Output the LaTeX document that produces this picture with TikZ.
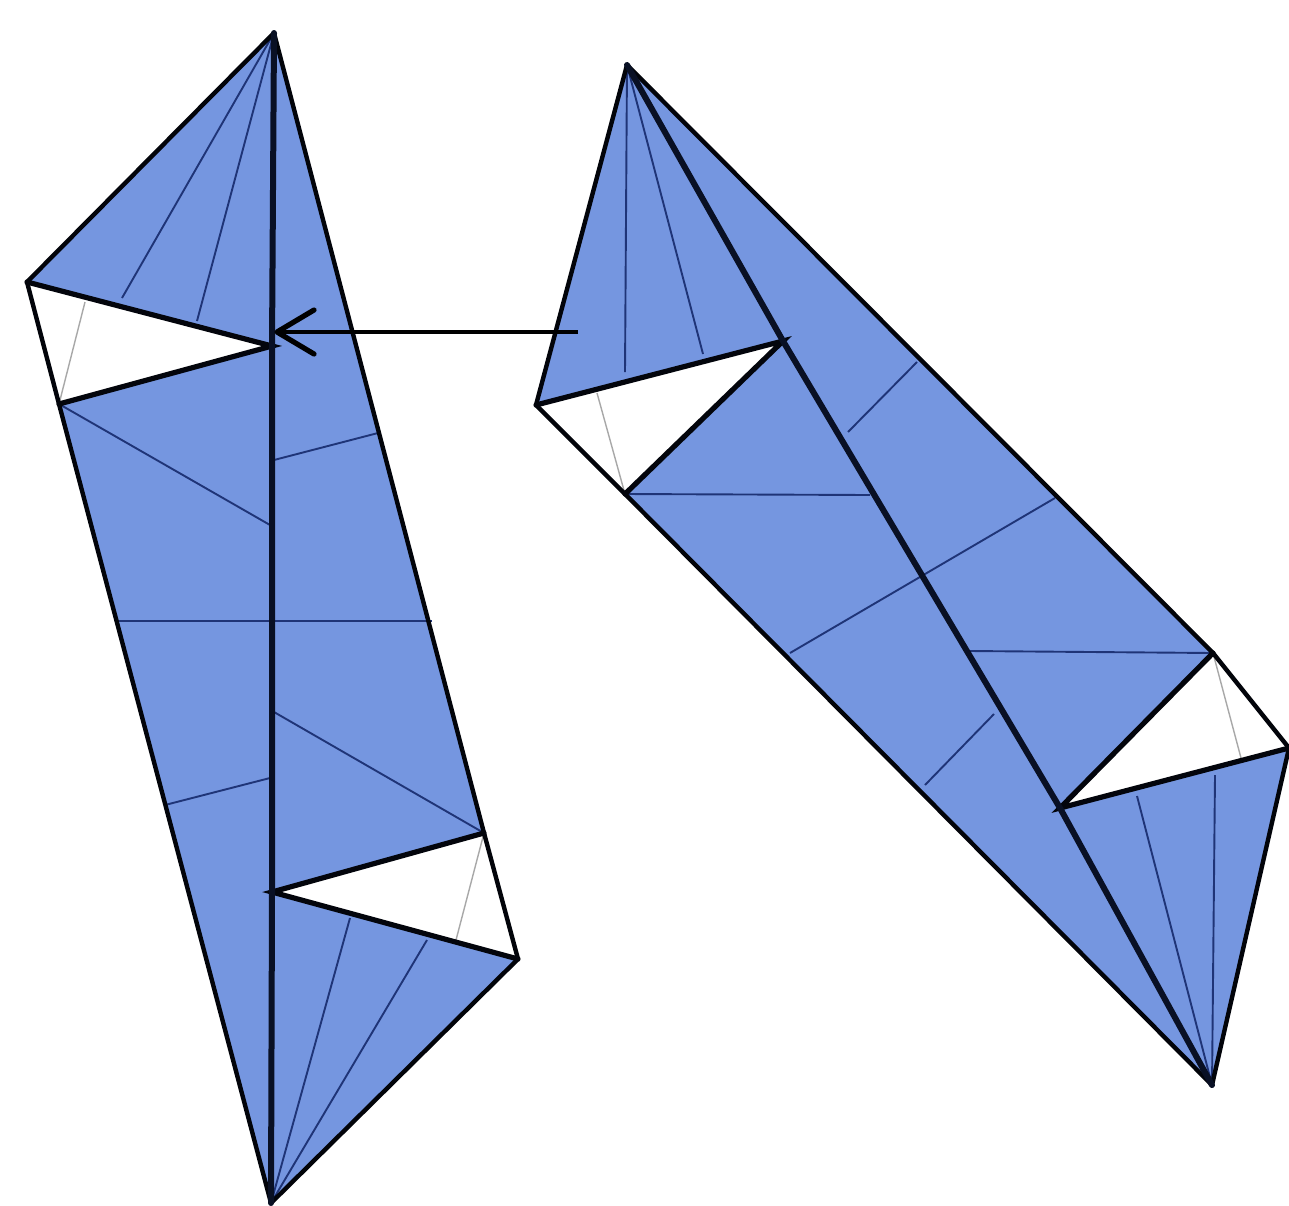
\documentclass[tikz,border=0pt]{standalone}
\definecolor{paper}{HTML}{7596E0}
\definecolor{crease}{HTML}{1F3477}
\definecolor{ghost}{HTML}{A8A8A8}
\tikzset{
  sheet/.style={fill=paper,draw=none},
  gap/.style={fill=white,draw=none},
  edge/.style={draw=black!92!crease,line width=2.2pt,line join=round,line cap=round},
  fold/.style={draw=black!90!crease,line width=2.6pt,line cap=round},
  mainfold/.style={draw=black!70!crease,line width=3pt,line cap=round},
  crease/.style={draw=crease,line width=0.95pt},
  faint/.style={draw=ghost,line width=0.7pt},
  pointer/.style={draw=black,line width=1.7pt},
  barb/.style={draw=black,line width=2.6pt,line cap=round,line join=round}
}
\begin{document}
\begin{tikzpicture}[x=0.5pt,y=-0.5pt]
\useasboundingbox (0,0) rectangle (1289,1205);
% left figure
\coordinate (A) at (274,33);
\coordinate (B) at (27,282);
\coordinate (C) at (59,404);
\coordinate (D) at (271,1203);
\coordinate (E) at (518,959);
\coordinate (F) at (484,833);
\coordinate (G) at (272,346);
\coordinate (H) at (272,892);
\fill[sheet] (A)--(B)--(C)--(D)--(E)--(F)--cycle;
\fill[gap] (B)--(C)--(G)--cycle;
\fill[gap] (F)--(E)--(H)--cycle;
% left creases
\draw[crease] (122,298)--(A);
\draw[crease] (197,321)--(A);
\draw[crease] (C)--(270,525);
\draw[crease] (274,460)--(378,433);
\draw[crease] (117,621)--(432,621);
\draw[crease] (165,805)--(270,778);
\draw[crease] (274,712)--(F);
\draw[crease] (350,918)--(D);
\draw[crease] (427,940)--(D);
\draw[faint] (85,302)--(C);
\draw[faint] (F)--(456,940);
% left outline
\draw[edge] (A)--(B)--(C)--(D)--(E)--(F)--cycle;
\draw[fold] (B)--(G)--(C);
\draw[fold] (F)--(H)--(E);
\draw[mainfold] (A)--(G)--(H)--(D);
% right figure
\coordinate (P) at (627,65);
\coordinate (Q) at (536,405);
\coordinate (R) at (625,494);
\coordinate (S) at (1212,1085);
\coordinate (T) at (1289,748);
\coordinate (U) at (1213,653);
\coordinate (W) at (783,341);
\coordinate (V) at (1060,808);
\fill[sheet] (P)--(Q)--(R)--(S)--(T)--(U)--cycle;
\fill[gap] (Q)--(R)--(W)--cycle;
\fill[gap] (U)--(T)--(V)--cycle;
% right creases
\draw[crease] (625,372)--(P);
\draw[crease] (703,354)--(P);
\draw[crease] (R)--(870,495);
\draw[crease] (848,432)--(917,362);
\draw[crease] (790,653)--(1055,498);
\draw[crease] (970,651)--(U);
\draw[crease] (925,785)--(994,714);
\draw[crease] (1137,796)--(S);
\draw[crease] (1215,775)--(S);
\draw[faint] (597,393)--(R);
\draw[faint] (U)--(1241,758);
% right outline
\draw[edge] (P)--(Q)--(R)--(S)--(T)--(U)--cycle;
\draw[fold] (Q)--(W)--(R);
\draw[fold] (U)--(V)--(T);
\draw[mainfold] (P)--(W)--(V)--(S);
% arrow
\coordinate (tail) at (578,332);
\coordinate (tip) at (277,332);
\coordinate (barbup) at (314,310);
\coordinate (barbdown) at (314,354);
\draw[pointer] (tail)--(tip);
\draw[barb] (barbup)--(tip)--(barbdown);
\end{tikzpicture}
\end{document}
